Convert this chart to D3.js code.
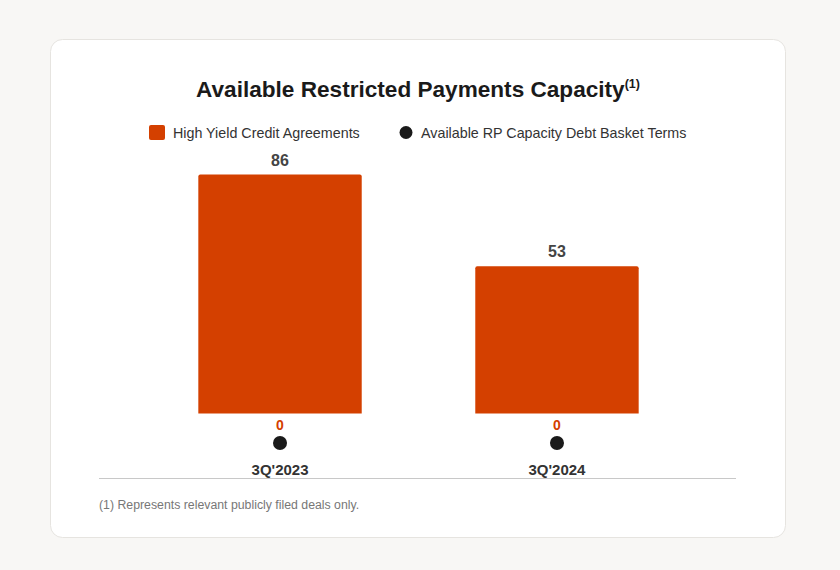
<!DOCTYPE html>
<html>
<head>
<meta charset="utf-8">
<script src="https://cdn.jsdelivr.net/npm/d3@7"></script>
<style>
  html, body { margin: 0; padding: 0; background: #f8f7f5; }
  body { width: 840px; height: 570px; font-family: "Liberation Sans", Arial, sans-serif; }
</style>
</head>
<body>
<svg class="grafico" width="840" height="570"></svg>
<script>
const categories = ["3Q'2023", "3Q'2024"];
const highYield = [86, 53];
const rpCapacity = [0, 0];
const seriesNames = ["High Yield Credit Agreements", "Available RP Capacity Debt Basket Terms"];

const barColor = "#d44000";
const dotColor = "#1a1a1a";

const svg = d3.select(".grafico");

// card
svg.append("rect")
  .attr("x", 50.5).attr("y", 39.5)
  .attr("width", 735).attr("height", 498)
  .attr("rx", 12)
  .attr("fill", "#fff")
  .attr("stroke", "#e6e4e0");

// titulo
const title = svg.append("text")
  .attr("x", 418).attr("y", 97)
  .attr("text-anchor", "middle")
  .attr("font-size", 22.6).attr("font-weight", "bold")
  .attr("fill", "#1a1a1a")
  .text("Available Restricted Payments Capacity");
title.append("tspan")
  .attr("font-size", 12.5).attr("dy", -9)
  .text("(1)");

// legenda
svg.append("rect")
  .attr("x", 149).attr("y", 125).attr("width", 16).attr("height", 15)
  .attr("rx", 2).attr("fill", barColor);
svg.append("text")
  .attr("x", 173).attr("y", 138)
  .attr("font-size", 14.3).attr("fill", "#333")
  .text(seriesNames[0]);
svg.append("circle")
  .attr("cx", 406).attr("cy", 132.5).attr("r", 6.5)
  .attr("fill", dotColor);
svg.append("text")
  .attr("x", 421).attr("y", 138)
  .attr("font-size", 14.3).attr("fill", "#333")
  .text(seriesNames[1]);

const margin = { left: 99, right: 736 };

// eixo x
const x = d3.scaleBand()
  .domain(categories)
  .range([margin.left + 1, margin.right + 1])
  .paddingInner(0.41)
  .paddingOuter(0.355);

// eixo y
const y = d3.scaleLinear()
  .domain([0, 86])
  .range([413.5, 174.5]);

// barras
svg.append("g").selectAll("path")
  .data(highYield)
  .join("path")
  .attr("fill", barColor)
  .attr("d", (d, i) => {
    const x0 = x(categories[i]), w = x.bandwidth(), y0 = y(d), y1 = y(0), r = 2;
    return `M${x0},${y1}V${y0 + r}Q${x0},${y0} ${x0 + r},${y0}H${x0 + w - r}Q${x0 + w},${y0} ${x0 + w},${y0 + r}V${y1}Z`;
  });

// valores das barras
svg.append("g").selectAll("text")
  .data(highYield)
  .join("text")
  .attr("x", (d, i) => x(categories[i]) + x.bandwidth() / 2)
  .attr("y", d => y(d) - 9)
  .attr("text-anchor", "middle")
  .attr("font-size", 16).attr("font-weight", "bold")
  .attr("fill", "#444")
  .text(d => d);

// pontos (valor 0)
svg.append("g").selectAll("text")
  .data(rpCapacity)
  .join("text")
  .attr("x", (d, i) => x(categories[i]) + x.bandwidth() / 2)
  .attr("y", 430)
  .attr("text-anchor", "middle")
  .attr("font-size", 14).attr("font-weight", "bold")
  .attr("fill", barColor)
  .text(d => d);

svg.append("g").selectAll("circle")
  .data(rpCapacity)
  .join("circle")
  .attr("cx", (d, i) => x(categories[i]) + x.bandwidth() / 2)
  .attr("cy", 443)
  .attr("r", 7)
  .attr("fill", dotColor);

// eixo
const axis = svg.append("g")
  .attr("transform", "translate(0, 478.5)")
  .call(d3.axisBottom(x).tickSize(0).tickPadding(0));
axis.select(".domain").attr("stroke", "#c8c8c8").attr("d", `M${margin.left},0H${margin.right}`);
axis.selectAll(".tick text")
  .attr("y", -3.5).attr("dy", 0)
  .attr("font-family", "Liberation Sans, Arial, sans-serif")
  .attr("font-size", 15).attr("font-weight", "bold")
  .attr("fill", "#333");

// nota
svg.append("text")
  .attr("x", 99).attr("y", 509)
  .attr("font-size", 12.3).attr("fill", "#777")
  .text("(1) Represents relevant publicly filed deals only.");
</script>
</body>
</html>
